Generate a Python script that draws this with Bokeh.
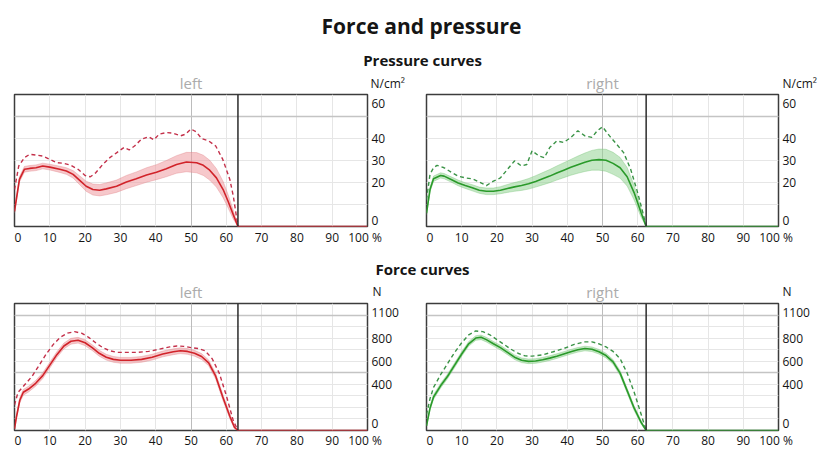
from bokeh.plotting import figure
from bokeh.layouts import column, row
from bokeh.models import Range1d, FixedTicker, Grid, Span, Label
from bokeh.embed import file_html
from bokeh.resources import INLINE

FONT = "Open Sans"

# ---------------- data ----------------
X_GRID = [0, 10, 20, 30, 40, 50, 60, 70, 80, 90, 100]
X_TICK_LABELS = ["0", "10", "20", "30", "40", "50", "60", "70", "80", "90", "100 %"]
P_MAX = 60
P_TICK_LABELS = ["0", "20", "30", "40", "60"]
F_MAX = 1100
F_TICK_LABELS = ["0", "400", "600", "800", "1100"]

TOE_LEFT = 63.3
TOE_RIGHT = 62.4

# Pressure, left foot
PL_X = [0, 1.4, 2.8, 4.3, 6.1, 8, 10, 12.8, 14.7, 16.6, 18.4, 20.3, 22.2, 24.1, 26, 28.9, 31.7, 34.5,
        37.4, 40.2, 43, 45.9, 48.7, 51.6, 53.5, 55.3, 57.2, 59.1, 60.5, 62, 63.3, 100]
PL_MEAN = [6.9, 21.4, 26, 26.4, 26.7, 27.5, 27, 26, 25.2, 23.7, 21.1, 18.3, 16.8, 16.5, 17.1, 18.3, 20.2,
           21.7, 23.4, 24.7, 26.3, 28.2, 29.3, 29, 27.8, 25.6, 22.1, 16.8, 11.5, 5.3, 0, 0]
PL_SD = [0.8, 1.2, 1.3, 1.3, 1.3, 1.3, 1.3, 1.4, 1.5, 1.7, 2, 2.3, 2.5, 2.6, 2.7, 2.8, 3, 3.1,
         3.3, 3.4, 3.7, 4, 4.4, 4.6, 4.6, 4.5, 4.2, 3.7, 3, 2, 0, 0]
PL_MAX_X = [0, 1.2, 2.8, 4.3, 6, 8, 10, 12, 14, 16, 18, 20, 21.5, 23, 25, 27, 29, 31, 32.5, 34, 36, 38,
            39.5, 41, 43, 45, 47, 48.5, 50, 51.5, 53, 55, 57, 59, 61, 62, 63.3]
PL_MAX = [16.8, 27.5, 31.3, 32.8, 32.5, 32, 30.5, 29, 28.7, 27.8, 26, 23.2, 22.6, 24.4, 28.2, 31.3, 33.6,
          35.9, 34.8, 36.6, 39.7, 40.8, 39.4, 42, 42.7, 42.4, 41.2, 42, 44.3, 43, 40, 38.9, 36.6, 30.5,
          21.4, 13.7, 0]

# Pressure, right foot
PR_X = [0, 1, 2, 4, 5, 7, 9, 11, 13, 15, 17, 19, 21, 23, 25, 27, 29, 31, 33, 35, 37, 39, 41, 43, 45,
        47, 49, 51, 53, 55, 57, 59, 61, 62.4, 100]
PR_MEAN = [6.1, 16.8, 21.7, 23.2, 22.9, 21.4, 19.8, 18.6, 17.6, 16.5, 16, 16, 16.5, 17.3, 18, 18.6, 19.4,
           20.5, 21.7, 22.9, 24.3, 25.6, 26.9, 28.1, 29.2, 30.1, 30.4, 30.1, 28.7, 26.7, 22.6, 15.3, 6.1,
           0, 0]
PR_SD = [0.8, 1, 1.2, 1.2, 1.2, 1.2, 1.3, 1.3, 1.4, 1.4, 1.5, 1.5, 1.6, 1.8, 2, 2.2, 2.4, 2.6, 2.8, 3,
         3.2, 3.4, 3.6, 3.9, 4.2, 4.5, 4.8, 5, 5, 4.7, 4.2, 3.3, 2, 0, 0]
PR_MAX_X = [0, 1, 2, 3, 5, 7, 9, 11, 13, 15, 17, 19, 21, 23, 25, 27, 28.5, 30, 32, 33.5, 35, 37, 39, 41,
            43, 45, 47, 48.5, 50, 52, 54, 56, 58, 60, 61.5, 62.4]
PR_MAX = [12.2, 23.7, 26.7, 27.8, 26.7, 24.7, 22.9, 22.1, 21.7, 20.2, 18.6, 20.6, 22.1, 26, 29.8, 27.5,
          28.2, 34.4, 32, 31.3, 35.9, 38.9, 38.2, 40.5, 43.5, 41.2, 40.5, 43.5, 45.3, 41.2, 37.4, 33.6,
          26, 15.3, 6.1, 0]

# Force, left foot
FL_X = [0, 0.5, 1.5, 2.5, 4, 6, 8, 10, 12, 14, 16, 18, 20, 22, 24, 26, 28, 30, 33, 36, 39, 42, 45, 47,
        49, 51, 53, 55, 57, 59, 61, 62.3, 63.3, 100]
FL_MEAN = [14, 110, 262, 331, 359, 409, 475, 566, 657, 732, 773, 782, 760, 718, 669, 635, 616, 608, 608,
           616, 635, 663, 682, 691, 685, 669, 641, 586, 470, 290, 124, 28, 0, 0]
FL_SD = [5, 15, 22, 25, 25, 25, 25, 25, 25, 25, 25, 25, 25, 25, 25, 25, 25, 25, 25, 25, 25, 25, 25, 25,
         25, 25, 25, 25, 25, 25, 22, 12, 0, 0]
FL_MAX_X = [0, 1, 3, 5, 7, 9, 11, 13, 15, 17, 19, 21, 23, 25, 27, 29, 32, 35, 38, 41, 44, 46, 48, 50, 52,
            54, 56, 58, 60, 62, 63.3]
FL_MAX = [221, 331, 400, 470, 566, 663, 746, 807, 843, 856, 843, 807, 760, 718, 691, 677, 677, 677, 685,
          704, 724, 732, 729, 718, 710, 691, 622, 497, 304, 83, 0]

# Force, right foot
FR_X = [0, 1, 2, 4, 6, 8, 10, 12, 14, 15.5, 17, 19, 21, 23, 25, 27, 29, 31, 33, 35, 37, 39, 41, 43, 45,
        47, 49, 51, 53, 55, 57, 59, 61, 62.4, 100]
FR_MEAN = [41, 193, 290, 387, 470, 566, 663, 751, 801, 807, 787, 751, 718, 677, 635, 608, 599, 602, 613,
           627, 644, 663, 682, 699, 710, 704, 682, 649, 594, 497, 345, 193, 69, 0, 0]
FR_SD = [5, 15, 20, 20, 20, 20, 20, 20, 20, 20, 20, 20, 20, 20, 20, 20, 20, 20, 20, 20, 20, 20, 20, 20,
         20, 20, 20, 20, 20, 20, 20, 20, 15, 0, 0]
FR_MAX_X = [0, 1, 2, 4, 6, 8, 10, 12, 14, 16, 18, 20, 22, 24, 26, 28, 30, 33, 36, 39, 42, 45, 47, 49, 51,
            53, 55, 57, 59, 61, 62.4]
FR_MAX = [138, 276, 373, 483, 580, 677, 760, 829, 862, 856, 829, 787, 746, 704, 669, 646, 644, 655, 682,
          710, 746, 768, 768, 751, 724, 685, 622, 497, 331, 138, 0]

# ---------------- layout / style (not data) ----------------
# where the tick labels sit: edge labels are pulled inside the frame, as in the reference
X_LABEL_AT = [1, 10, 20, 30, 40, 50, 60, 70, 80, 90, 99.3]
P_LABEL_AT = [2.7, 20, 30, 40, 55.9]
F_LABEL_AT = [61, 400, 600, 800, 1022]
P_GRID_STEP, P_DARK = 10, [50]
F_GRID_STEP, F_DARK = 100, [500, 1000]

RED = dict(line="#d1232a", dash="#c4304a", band="#ee9aa0", edge="#e07a82")
GREEN = dict(line="#2a9a2a", dash="#3a9346", band="#93d493", edge="#6cbf6c")
TEXT = "#151515"
SIDE_GREY = "#ababab"


# ---------------- helpers ----------------
def header(height, items):
    h = figure(width=824, height=height, x_range=Range1d(0, 824), y_range=Range1d(0, height),
               output_backend="svg", toolbar_location=None, x_axis_location=None,
               y_axis_location=None, min_border=0)
    h.grid.visible = False
    h.outline_line_color = None
    h.background_fill_color = "white"
    h.border_fill_color = "white"
    for (x, y, txt, size, style, color, align) in items:
        h.add_layout(Label(x=x, y=y, text=txt, text_font=FONT, text_font_size=size,
                           text_font_style=style, text_color=color, text_align=align,
                           text_baseline="middle"))
    return h


def panel(width, height, ml, mr, mb, standoff, ymax, ylabel_at, ylabels, ygrid_step, ydark,
          x, mean, sd, mx_x, mx, toe, colors):
    p = figure(width=width, height=height, x_range=Range1d(0, 100), y_range=Range1d(0, ymax),
               output_backend="svg", toolbar_location=None, y_axis_location="right",
               min_border_left=ml, min_border_right=mr, min_border_top=1, min_border_bottom=mb)
    p.outline_line_color = "#3c3c3c"
    p.outline_line_width = 1.5
    p.background_fill_color = "white"
    p.border_fill_color = "white"

    for ax in (p.xaxis[0], p.yaxis[0]):
        ax.axis_line_color = None
        ax.major_tick_line_color = None
        ax.minor_tick_line_color = None
        ax.major_label_text_font = FONT
        ax.major_label_text_font_size = "12px"
        ax.major_label_text_color = TEXT
        ax.major_tick_out = 0
        ax.major_tick_in = 0
    p.xaxis.ticker = FixedTicker(ticks=X_LABEL_AT)
    p.xaxis.major_label_overrides = dict(zip(X_LABEL_AT, X_TICK_LABELS))
    p.xaxis.major_label_standoff = standoff
    p.yaxis.ticker = FixedTicker(ticks=ylabel_at)
    p.yaxis.major_label_overrides = dict(zip(ylabel_at, ylabels))
    p.yaxis.major_label_standoff = 4

    p.xgrid.ticker = FixedTicker(ticks=X_GRID)
    p.ygrid.ticker = FixedTicker(ticks=list(range(0, ymax + 1, ygrid_step)))
    p.grid.grid_line_color = "#e6e6e6"
    p.grid.grid_line_width = 1
    p.add_layout(Grid(dimension=0, ticker=FixedTicker(ticks=[50]), grid_line_color="#bcbcbc",
                      grid_line_width=1))
    p.add_layout(Grid(dimension=1, ticker=FixedTicker(ticks=ydark), grid_line_color="#c4c4c4",
                      grid_line_width=1.5))

    lower = [max(m - s, 0) for m, s in zip(mean, sd)]
    upper = [m + s for m, s in zip(mean, sd)]
    p.varea(x=x, y1=lower, y2=upper, fill_color=colors["band"], fill_alpha=0.55)
    p.line(x=x, y=lower, line_color=colors["edge"], line_alpha=0.35, line_width=1)
    p.line(x=x, y=upper, line_color=colors["edge"], line_alpha=0.35, line_width=1)
    p.line(x=x, y=mean, line_color=colors["line"], line_width=1.6)
    p.line(x=mx_x, y=mx, line_color=colors["dash"], line_width=1.4, line_dash="4 3")

    p.add_layout(Span(location=toe, dimension="height", line_color="#2b2b2b", line_width=1.5))
    return p


# header above the pressure curves (0..93 px)
h1 = header(93, [
    (421, 68, "Force and pressure", "21px", "bold", TEXT, "center"),
    (422, 34, "Pressure curves", "15px", "bold", TEXT, "center"),
    (190.5, 10.3, "left", "15px", "normal", SIDE_GREY, "center"),
    (602, 10.3, "right", "15px", "normal", SIDE_GREY, "center"),
    (370, 9.6, "N/cm²", "12px", "normal", TEXT, "left"),
    (782, 9.6, "N/cm²", "12px", "normal", TEXT, "left"),
])
# header above the force curves (248..302 px)
h2 = header(54, [
    (422, 34, "Force curves", "15px", "bold", TEXT, "center"),
    (190.5, 10.8, "left", "15px", "normal", SIDE_GREY, "center"),
    (602, 10.8, "right", "15px", "normal", SIDE_GREY, "center"),
    (372, 11.5, "N", "12px", "normal", TEXT, "left"),
    (782, 11.5, "N", "12px", "normal", TEXT, "left"),
])

pl = panel(420, 155, 14, 53, 22, 2, P_MAX, P_LABEL_AT, P_TICK_LABELS, P_GRID_STEP, P_DARK,
           PL_X, PL_MEAN, PL_SD, PL_MAX_X, PL_MAX, TOE_LEFT, RED)
pr = panel(404, 155, 6, 46, 22, 2, P_MAX, P_LABEL_AT, P_TICK_LABELS, P_GRID_STEP, P_DARK,
           PR_X, PR_MEAN, PR_SD, PR_MAX_X, PR_MAX, TOE_RIGHT, GREEN)
fl = panel(420, 149, 14, 53, 17, 1, F_MAX, F_LABEL_AT, F_TICK_LABELS, F_GRID_STEP, F_DARK,
           FL_X, FL_MEAN, FL_SD, FL_MAX_X, FL_MAX, TOE_LEFT, RED)
fr = panel(404, 149, 6, 46, 17, 1, F_MAX, F_LABEL_AT, F_TICK_LABELS, F_GRID_STEP, F_DARK,
           FR_X, FR_MEAN, FR_SD, FR_MAX_X, FR_MAX, TOE_RIGHT, GREEN)

layout = column(h1, row(pl, pr, spacing=0), h2, row(fl, fr, spacing=0), spacing=0)

open("out.html", "w").write(file_html(layout, INLINE, title="Force and pressure"))
